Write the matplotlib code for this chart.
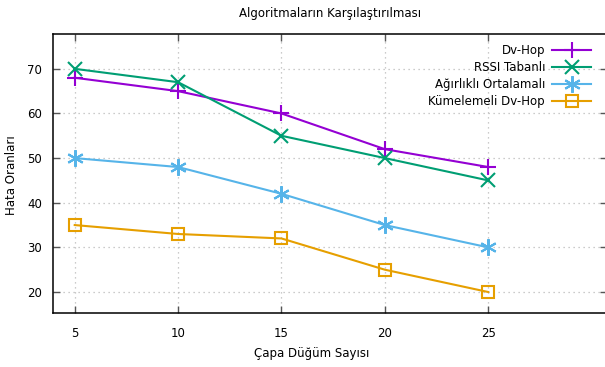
import matplotlib.pyplot as plt

# Anchor node counts and error rates for each localisation algorithm
capa = [5, 10, 15, 20, 25]
dv_hop = [68, 65, 60, 52, 48]
rssi = [70, 67, 55, 50, 45]
agirlikli = [50, 48, 42, 35, 30]
kumelemeli = [35, 33, 32, 25, 20]

fig = plt.figure(figsize=(6.05, 3.67), dpi=100)
ax = fig.add_axes([53 / 605, 1 - 313 / 367, 553.5 / 605, 279 / 367])

ax.plot(capa, dv_hop, color="#9400D3", lw=1.5, marker="+", ms=11, mew=1.5, label="Dv-Hop")
ax.plot(capa, rssi, color="#009E73", lw=1.5, marker="x", ms=10, mew=1.5, label="RSSI Tabanlı")
ax.plot(capa, agirlikli, color="#56B4E9", lw=1.5, marker=(6, 2, 0), ms=12, mew=1.5,
        label="Ağırlıklı Ortalamalı")
ax.plot(capa, kumelemeli, color="#E69F00", lw=1.5, marker="s", ms=9, mew=1.5, mfc="none",
        label="Kümelemeli Dv-Hop")

ax.set_xlim(3.95, 30.72)
ax.set_ylim(15.3, 77.8)
ax.set_xticks(capa)
ax.set_yticks([20, 30, 40, 50, 60, 70])
ax.tick_params(direction="in", length=5, width=1, labelsize=8.5, top=True, right=True,
               pad=8, color="#555555")
ax.tick_params(axis="x", pad=10)
ax.grid(True, color="#bbbbbb", ls=(0, (1, 3)), lw=0.9)
for s in ax.spines.values():
    s.set_linewidth(1.1)

fig.text(330 / 605, 1 - 13 / 367, "Algoritmaların Karşılaştırılması", ha="center", va="center",
         fontsize=8.5)
fig.text(312 / 605, 1 - 353 / 367, "Çapa Düğüm Sayısı", ha="center", va="center", fontsize=8.5)
fig.text(12 / 605, 1 - 175 / 367, "Hata Oranları", ha="center", va="center", rotation=90,
         fontsize=8.5)

ax.legend(loc="upper right", bbox_to_anchor=(597 / 605, 1 - 38 / 367),
          bbox_transform=fig.transFigure, frameon=False, markerfirst=False,
          fontsize=8.5, handlelength=3.3, labelspacing=0.35, borderpad=0, handletextpad=0.6)

fig.savefig("out.png", dpi=100)
